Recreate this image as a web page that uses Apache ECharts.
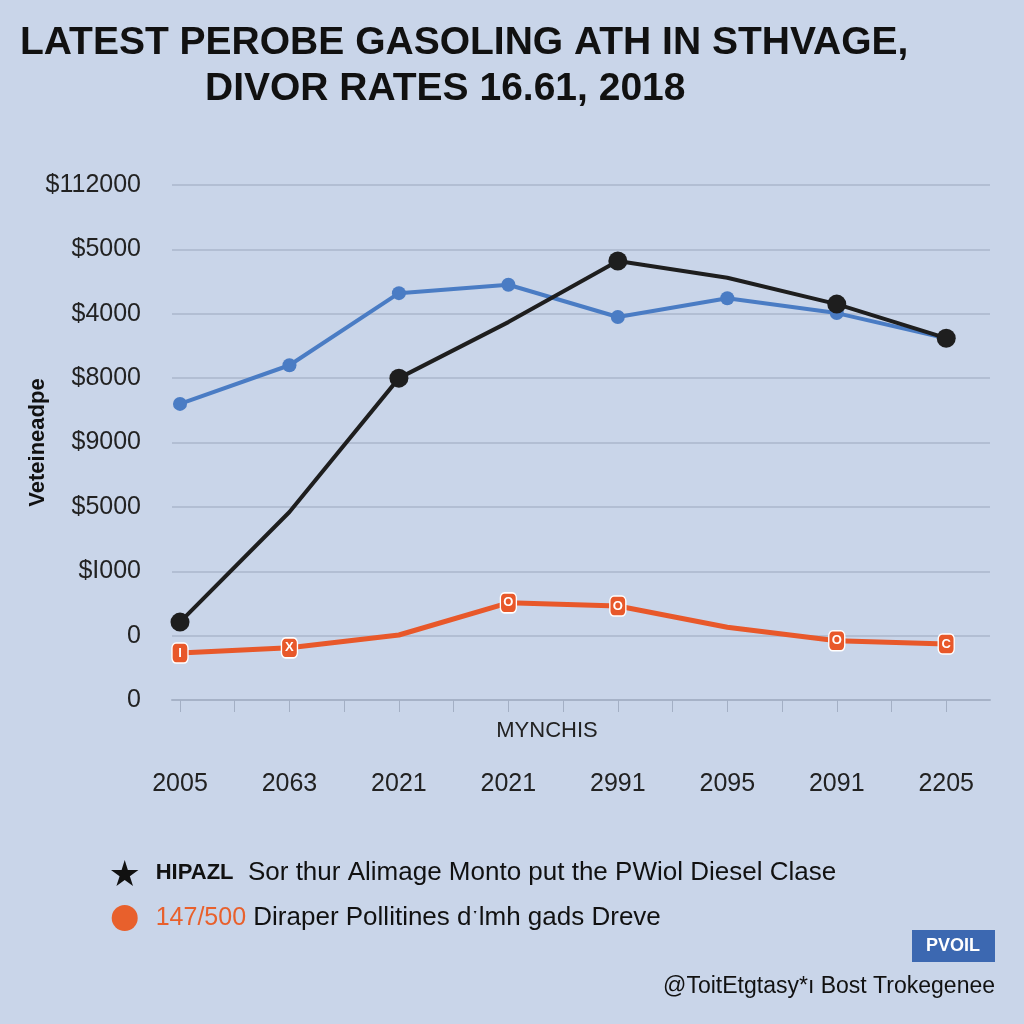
<!DOCTYPE html>
<html><head><meta charset="utf-8">
<script src="https://cdn.jsdelivr.net/npm/echarts@6/dist/echarts.min.js"></script>
<style>html,body{margin:0;padding:0;background:#c9d5e9}#c{width:1024px;height:1024px}</style>
</head><body><div id="c"></div><script>
const titleLine1 = 'LATEST PEROBE GASOLING ATH IN STHVAGE,';
const titleLine2 = 'DIVOR RATES 16.61, 2018';
const xLabels = ['2005','2063','2021','2021','2991','2095','2091','2205'];
const yLabels = ['0','0','$I000','$5000','$9000','$8000','$4000','$5000','$112000'];
const blueValues = [4.60,5.20,6.32,6.45,5.95,6.24,6.01,5.62];
const blackValues = [1.21,2.92,5.00,5.87,6.82,6.56,6.15,5.62];
const orangeValues = [0.73,0.81,1.01,1.51,1.46,1.13,0.92,0.87];
const blackMarkers = [true,false,true,false,true,false,true,true];
const orangeMarkers = ['I','X','','O','O','','O','C'];
const blueName = 'Gasoline';
const blackName = 'HIPAZL|Sor thur Alimage Monto put the PWiol Diesel Clase';
const orangeName = '147/500|Diraper Pollitines d\u02D1lmh gads Dreve';
const xName = 'MYNCHIS';
const yName = 'Veteineadpe';
const footer = '@ToitEtgtasy*\u0131 Bost Trokegenee';
const badge = 'PVOIL';

const FONT = '"Liberation Sans", Arial, sans-serif';
const starPath = 'path://M50,0 L61,35 L98,35 L68,57 L79,91 L50,70 L21,91 L32,57 L2,35 L39,35 Z';

const chart = echarts.init(document.getElementById('c'));
const idx = xLabels.map((_, i) => i);

chart.setOption({
  backgroundColor: '#c9d5e9',
  textStyle: { fontFamily: FONT },
  title: [
    { text: titleLine1, left: 20, top: 24, padding: 0,
      textStyle: { fontSize: 39, fontWeight: 'bold', color: '#111', fontFamily: FONT } },
    { text: titleLine2, left: 205, top: 70, padding: 0,
      textStyle: { fontSize: 39, fontWeight: 'bold', color: '#111', fontFamily: FONT } }
  ],
  grid: { left: 172, right: 34, top: 185, bottom: 324, containLabel: false },
  xAxis: {
    type: 'value', min: -0.073, max: 7.4,
    name: xName, nameLocation: 'middle', nameGap: 20, nameMoveOverlap: false,
    nameTextStyle: { fontSize: 22, color: '#222', padding: [0, 68, 0, 0] },
    axisLine: { show: true, lineStyle: { color: '#a6b2c7', width: 2 } },
    axisTick: { show: true, customValues: [0,0.5,1,1.5,2,2.5,3,3.5,4,4.5,5,5.5,6,6.5,7], length: 12, lineStyle: { color: '#a3afc4', width: 1 } },
    axisLabel: { customValues: idx, formatter: v => xLabels[Math.round(v)], margin: 72, fontSize: 25, color: '#222' },
    splitLine: { show: false }
  },
  yAxis: {
    type: 'value', min: 0, max: 8, interval: 1,
    name: yName, nameLocation: 'middle', nameGap: 123, nameRotate: 90, nameMoveOverlap: false,
    nameTextStyle: { fontSize: 22, fontWeight: 'bold', color: '#111' },
    axisLine: { show: false }, axisTick: { show: false },
    axisLabel: { formatter: v => yLabels[Math.round(v)], margin: 31, fontSize: 25, color: '#222' },
    splitLine: { lineStyle: { color: '#b2bed3', width: 2 } }
  },
  legend: {
    orient: 'vertical', left: 106, top: 855, itemGap: 19,
    itemWidth: 28, itemHeight: 26,
    data: [
      { name: blackName, icon: starPath, itemStyle: { color: '#111', borderWidth: 0 } },
      { name: orangeName, icon: 'circle', itemStyle: { color: '#e8602c', borderWidth: 0 } }
    ],
    formatter: n => {
      const p = n.split('|');
      return n === blackName ? '{b|' + p[0] + '}  ' + p[1] : '{o|' + p[0] + '} ' + p[1];
    },
    textStyle: {
      fontSize: 26, color: '#111', padding: [0, 0, 0, 12],
      rich: { b: { fontSize: 22, fontWeight: 'bold', color: '#111' }, o: { fontSize: 25, color: '#e8602c' } }
    }
  },
  graphic: [
    { type: 'rect', left: 912, top: 930, shape: { width: 83, height: 32 }, style: { fill: '#3c68b1' } },
    { type: 'text', x: 953, y: 946, style: { text: badge, fill: '#fff', font: 'bold 18px ' + FONT, align: 'center', verticalAlign: 'middle' } },
    { type: 'text', right: 29, top: 975, style: { text: footer, fill: '#111', font: '23px ' + FONT } }
  ],
  series: [
    { name: blueName, type: 'line', z: 2,
      data: blueValues.map((v, i) => [i, v]),
      symbol: 'circle', symbolSize: 14,
      lineStyle: { color: '#4a7cc4', width: 4 }, itemStyle: { color: '#4a7cc4' } },
    { name: blackName, type: 'line', z: 4,
      data: blackValues.map((v, i) => ({ value: [i, v], symbol: blackMarkers[i] ? 'circle' : 'none' })),
      symbol: 'circle', symbolSize: 19,
      lineStyle: { color: '#1e1e1e', width: 4 }, itemStyle: { color: '#1e1e1e' } },
    { name: orangeName, type: 'line', z: 3,
      data: orangeValues.map((v, i) => ({ value: [i, v], symbol: orangeMarkers[i] ? 'roundRect' : 'none',
        label: { show: !!orangeMarkers[i], formatter: orangeMarkers[i] } })),
      symbol: 'roundRect', symbolSize: [16, 20],
      lineStyle: { color: '#e8582a', width: 5 },
      itemStyle: { color: '#e8582a', borderColor: '#fff', borderWidth: 1.5 },
      label: { position: 'inside', color: '#fff', fontWeight: 'bold', fontSize: 13 } }
  ]
});
</script></body></html>
